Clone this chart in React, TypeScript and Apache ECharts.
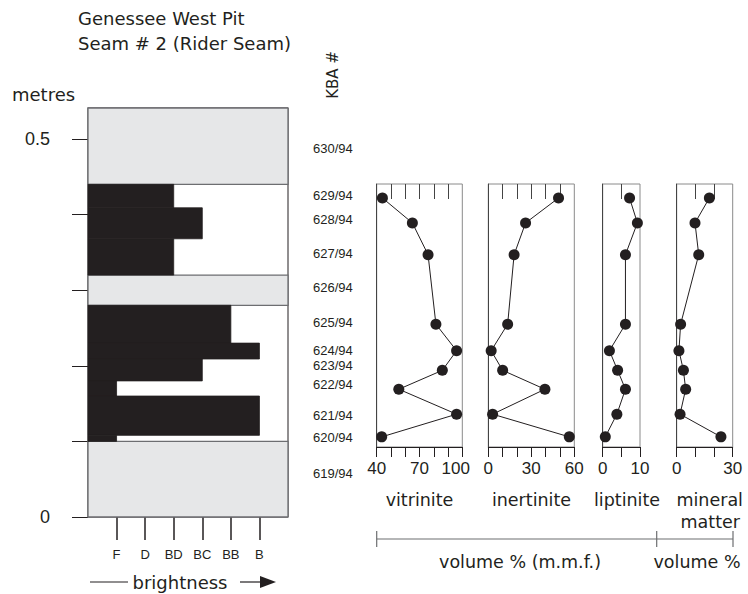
import React, { useEffect, useRef } from 'react';
import * as echarts from 'echarts';

// ---- data ----
const brightnessClasses = ['F', 'D', 'BD', 'BC', 'BB', 'B'];
const kbaNumbers = ['630/94', '629/94', '628/94', '627/94', '626/94', '625/94', '624/94', '623/94', '622/94', '621/94', '620/94', '619/94'];
const layerTop = [0.541, 0.44, 0.409, 0.368, 0.32, 0.28, 0.23, 0.209, 0.18, 0.16, 0.108, 0.1];
const layerBase = [0.44, 0.409, 0.368, 0.32, 0.28, 0.23, 0.209, 0.18, 0.16, 0.108, 0.1, 0];
const layerBrightness = ['', 'BD', 'BC', 'BD', '', 'BB', 'B', 'BC', 'F', 'B', 'F', ''];
const kbaLabelDepth = [0.487, 0.425, 0.394, 0.348, 0.303, 0.257, 0.22, 0.2, 0.175, 0.134, 0.105, 0.057];

const sampleIds = ['629/94', '628/94', '627/94', '625/94', '624/94', '623/94', '622/94', '621/94', '620/94'];
const sampleDepth = [0.422, 0.389, 0.347, 0.255, 0.22, 0.194, 0.169, 0.136, 0.106];
const vitrinite = [44, 65, 76, 81.5, 96, 86, 55.5, 96, 43.5];
const inertinite = [49, 26, 18, 13.5, 2, 10, 39.5, 3, 56.5];
const liptinite = [7.2, 9.3, 6.1, 6.1, 1.8, 4, 6.1, 3.8, 0.7];
const mineralMatter = [17.5, 9.8, 11.8, 2.1, 1.2, 3.6, 4.8, 1.8, 23.7];

const depthTicks = [0, 0.1, 0.2, 0.3, 0.4, 0.5];
const depthTickLabels = [0, 0.5];
const vitriniteTicks = [40, 50, 60, 70, 80, 90, 100];
const vitriniteTickLabels = [40, 70, 100];
const inertiniteTicks = [0, 10, 20, 30, 40, 50, 60];
const inertiniteTickLabels = [0, 30, 60];
const liptiniteTicks = [0, 5, 10];
const liptiniteTickLabels = [0, 10];
const mineralTicks = [0, 10, 20, 30];
const mineralTickLabels = [0, 30];

const INK = '#231f20';
const GREY = '#6d6e71';
const WORD_FONT = 'DejaVu Sans';
const NUM_FONT = 'Liberation Sans';

export default function App() {
  const ref = useRef<HTMLDivElement>(null);

  useEffect(() => {
    document.body.style.margin = '0';
    if (!ref.current) return;
    const chart = echarts.init(ref.current, undefined, { renderer: 'svg' });

    const panelTop = 184;
    const panelBottom = 594 - 447;
    const panels = [
      { left: 376.7, right: 748 - 462.3, min: 40, max: 100, ticks: vitriniteTicks, labels: vitriniteTickLabels, data: vitrinite, nudgeMax: true },
      { left: 488.3, right: 748 - 574.3, min: 0, max: 60, ticks: inertiniteTicks, labels: inertiniteTickLabels, data: inertinite, nudgeMax: false },
      { left: 602.7, right: 748 - 640, min: 0, max: 10, ticks: liptiniteTicks, labels: liptiniteTickLabels, data: liptinite, nudgeMax: false },
      { left: 676.7, right: 748 - 732.7, min: 0, max: 30, ticks: mineralTicks, labels: mineralTickLabels, data: mineralMatter, nudgeMax: false },
    ];

    const grids: any[] = [
      { left: 88, right: 748 - 288, top: 108, bottom: 594 - 517, show: true, borderColor: INK, borderWidth: 1, backgroundColor: '#fff' },
    ];
    const xAxes: any[] = [
      {
        type: 'value', gridIndex: 0, min: 0, max: 7, position: 'bottom',
        axisLine: { show: false },
        splitLine: { show: false },
        axisTick: { show: true, customValues: [1, 2, 3, 4, 5, 6], length: 23, lineStyle: { color: INK, width: 1.5 } },
        axisLabel: {
          customValues: [1, 2, 3, 4, 5, 6], margin: 31, color: INK, fontSize: 13, fontFamily: NUM_FONT,
          formatter: (v: number) => brightnessClasses[Math.round(v) - 1] ?? '',
        },
      },
    ];
    const yAxes: any[] = [
      {
        type: 'value', gridIndex: 0, min: 0, max: 0.541, position: 'left', offset: 11,
        axisLine: { show: true, lineStyle: { color: '#8a8a8a', width: 1.5 } },
        splitLine: { show: false },
        axisTick: { show: true, customValues: depthTicks, length: 16, lineStyle: { color: INK, width: 1 } },
        axisLabel: { customValues: depthTickLabels, margin: 27, color: INK, fontSize: 18, fontFamily: NUM_FONT },
      },
    ];
    const series: any[] = [
      {
        type: 'custom', xAxisIndex: 0, yAxisIndex: 0, silent: true,
        data: layerTop.map((t, i) => [t, layerBase[i], brightnessClasses.indexOf(layerBrightness[i]) + 1]),
        renderItem: (params: any, api: any) => {
          const top = api.value(0);
          const base = api.value(1);
          const rank = api.value(2);
          const coal = rank > 0;
          const p0 = api.coord([0, top]);
          const p1 = api.coord([coal ? rank : 7, base]);
          return {
            type: 'rect',
            z2: coal ? 2 : 1,
            shape: { x: p0[0], y: p0[1], width: p1[0] - p0[0], height: p1[1] - p0[1] },
            style: coal ? { fill: INK, stroke: INK, lineWidth: 0.8 } : { fill: '#e6e7e8', stroke: GREY, lineWidth: 1.3 },
          };
        },
      },
      {
        type: 'custom', xAxisIndex: 0, yAxisIndex: 0, silent: true,
        data: kbaLabelDepth.map((d) => [7, d]),
        renderItem: (params: any, api: any) => {
          const p = api.coord([api.value(0), api.value(1)]);
          return {
            type: 'text',
            x: p[0] + 25,
            y: p[1],
            style: {
              text: kbaNumbers[params.dataIndex],
              fill: INK, fontSize: 13, fontFamily: NUM_FONT,
              align: 'left', verticalAlign: 'middle',
            },
          };
        },
      },
    ];

    panels.forEach((p, k) => {
      const g = k + 1;
      grids.push({ left: p.left, right: p.right, top: panelTop, bottom: panelBottom, show: true, borderColor: '#8a8a8a', borderWidth: 1 });
      const inner = p.ticks.slice(1, -1);
      xAxes.push({
        type: 'value', gridIndex: g, min: p.min, max: p.max, position: 'bottom',
        axisLine: { show: true, lineStyle: { color: INK, width: 1 } },
        splitLine: { show: false },
        axisTick: { show: true, customValues: p.ticks, length: 10, lineStyle: { color: INK, width: 1 } },
        axisLabel: {
          customValues: p.labels, margin: 13, color: INK, fontSize: 17, fontFamily: NUM_FONT,
          formatter: (v: number) => (p.nudgeMax && v === p.max ? '{n|' + v + '}' : String(v)),
          rich: { n: { fontSize: 17, fontFamily: NUM_FONT, color: INK, padding: [0, 13, 0, 0] } },
        },
      });
      xAxes.push({
        type: 'value', gridIndex: g, min: p.min, max: p.max, position: 'top',
        axisLine: { show: false },
        splitLine: { show: false },
        axisTick: { show: true, inside: true, customValues: inner, length: 15, lineStyle: { color: '#444', width: 1 } },
        axisLabel: { show: false },
      });
      yAxes.push({
        type: 'value', gridIndex: g, min: 0.0926, max: 0.4405,
        axisLine: { show: true, lineStyle: { color: '#444', width: 1 } },
        axisTick: { show: false }, axisLabel: { show: false }, splitLine: { show: false },
      });
      series.push({
        type: 'line', name: sampleIds.join(','), xAxisIndex: 1 + 2 * k, yAxisIndex: g,
        data: p.data.map((v, i) => [v, sampleDepth[i]]),
        symbol: 'circle', symbolSize: 11,
        itemStyle: { color: INK },
        lineStyle: { color: INK, width: 1 },
        silent: true,
      });
    });

    const txt = (text: string, x: number, y: number, size: number, align = 'left', font = WORD_FONT, extra: any = {}) => ({
      type: 'text', x, y, ...extra,
      style: { text, fill: INK, fontSize: size, fontFamily: font, align, verticalAlign: 'middle' },
    });
    const ln = (x1: number, y1: number, x2: number, y2: number, color = GREY, w = 1.2) => ({
      type: 'line', shape: { x1, y1, x2, y2 }, style: { stroke: color, lineWidth: w },
    });

    const graphic: any[] = [
      txt('Genessee West Pit', 78, 18, 18),
      txt('Seam # 2 (Rider Seam)', 78, 43, 18),
      txt('metres', 12, 94, 18),
      txt('KBA #', 333, 75, 15, 'center', WORD_FONT, { rotation: Math.PI / 2 }),
      txt('vitrinite', 419.5, 500, 17.5, 'center'),
      txt('inertinite', 531.5, 500, 17.5, 'center'),
      txt('liptinite', 627, 500, 17.5, 'center'),
      txt('mineral', 743, 500, 17.5, 'right'),
      txt('matter', 740, 522, 17.5, 'right'),
      txt('volume % (m.m.f.)', 520, 562, 17.5, 'center'),
      txt('volume %', 697, 562, 17.5, 'center'),
      txt('brightness', 180, 582, 18, 'center'),
      ln(376.7, 539, 733, 539),
      ln(376.7, 531, 376.7, 547),
      ln(656.7, 531, 656.7, 547),
      ln(733, 531, 733, 547),
      ln(90, 582, 128, 582, INK, 1.2),
      ln(240, 582, 262, 582, INK, 1.2),
      { type: 'polygon', shape: { points: [[260, 576], [276, 582], [260, 588]] }, style: { fill: INK } },
    ];

    chart.setOption({
      animation: false,
      backgroundColor: '#fff',
      grid: grids,
      xAxis: xAxes,
      yAxis: yAxes,
      series,
      graphic,
    });

    return () => chart.dispose();
  }, []);

  return <div ref={ref} style={{ width: 748, height: 594 }} />;
}
